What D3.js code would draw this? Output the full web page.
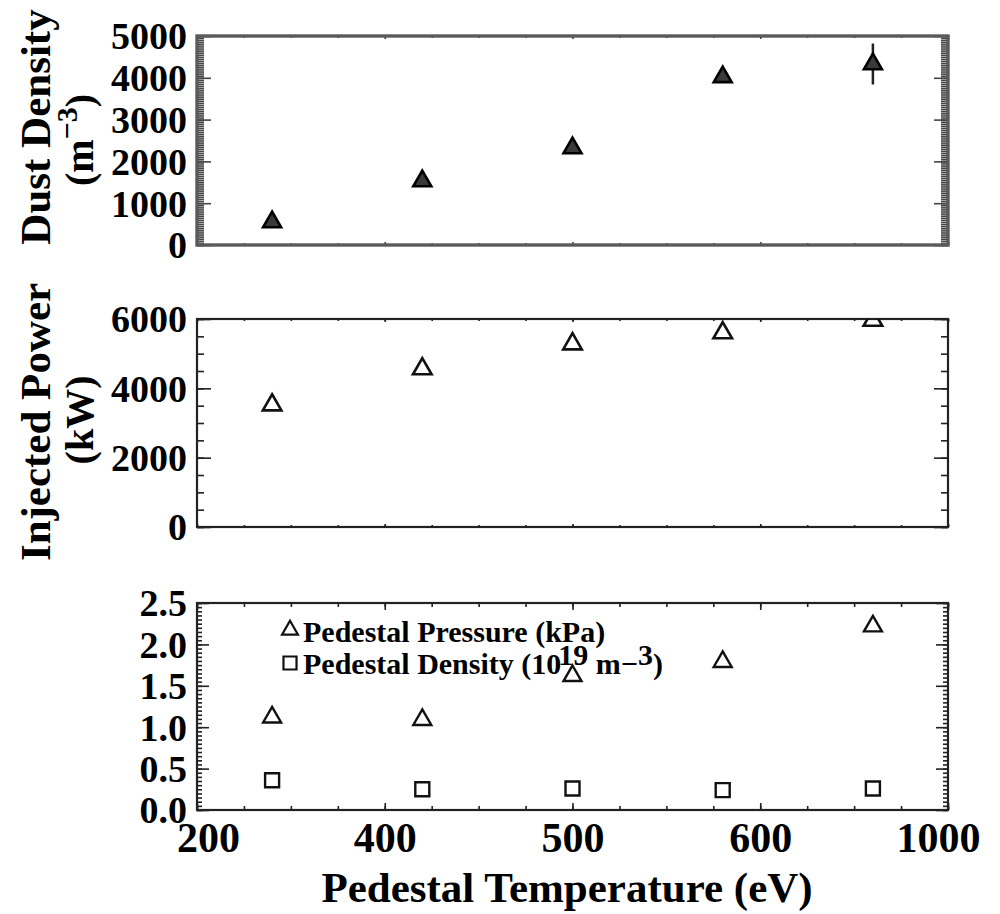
<!DOCTYPE html>
<html>
<head>
<meta charset="utf-8">
<script src="https://cdn.jsdelivr.net/npm/d3@7"></script>
<style>
  body { margin: 0; background: #fff; }
  text { font-family: "Liberation Serif", "Times New Roman", serif; font-weight: bold; fill: #000; }
</style>
</head>
<body>
<svg width="1000" height="914"></svg>
<script>
// data
let xPos = [280, 440, 600, 760, 920];            // positions along the temperature axis
let xTickVals = [200, 400, 600, 800, 1000];
let xTickLabels = ['200', '400', '500', '600', '1000'];

let dustDensity = [550, 1530, 2320, 4020, 4330];
let dustErr = [0, 0, 0, 0, 490];
let injectedPower = [3520, 4560, 5280, 5600, 5960];
let pedPressure = [1.12, 1.09, 1.62, 1.79, 2.22];
let pedDensity = [0.36, 0.25, 0.26, 0.24, 0.26];

let svg = d3.select('svg');
let x0 = 197, x1 = 948;

let x = d3.scaleLinear().domain([200, 1000]).range([x0, x1]);
let xMinor = d3.range(200, 1001, 50);

function triPath(size) {
  return d3.symbol().type(d3.symbolTriangle).size(size)();
}

function panel(opts) {
  let y = d3.scaleLinear().domain(opts.domain).range([opts.bottom, opts.top]);
  let g = svg.append('g');
  let id = 'clip' + opts.name;

  svg.append('clipPath').attr('id', id)
    .append('rect').attr('x', x0).attr('y', opts.top).attr('width', x1 - x0).attr('height', opts.bottom - opts.top);

  // y ticks, left and right, pointing inward
  let majors = d3.range(opts.domain[0], opts.domain[1] + 1e-9, opts.major);
  let minors = d3.range(opts.domain[0], opts.domain[1] + 1e-9, opts.minor);
  g.append('g').attr('transform', 'translate(' + x0 + ',0)')
    .call(d3.axisRight(y).tickValues(minors).tickSize(opts.minorLen).tickFormat(''));
  g.append('g').attr('transform', 'translate(' + x0 + ',0)')
    .call(d3.axisRight(y).tickValues(majors).tickSize(opts.majorLen).tickFormat(''));
  g.append('g').attr('transform', 'translate(' + x1 + ',0)')
    .call(d3.axisLeft(y).tickValues(minors).tickSize(opts.minorLen).tickFormat(''));
  g.append('g').attr('transform', 'translate(' + x1 + ',0)')
    .call(d3.axisLeft(y).tickValues(majors).tickSize(opts.majorLen).tickFormat(''));

  // x ticks, top and bottom
  g.append('g').attr('transform', 'translate(0,' + opts.bottom + ')')
    .call(d3.axisTop(x).tickValues(xMinor).tickSize(opts.xMinorLen).tickFormat(''));
  g.append('g').attr('transform', 'translate(0,' + opts.bottom + ')')
    .call(d3.axisTop(x).tickValues(xTickVals).tickSize(opts.xMajorLen).tickFormat(''));
  g.append('g').attr('transform', 'translate(0,' + opts.top + ')')
    .call(d3.axisBottom(x).tickValues(xMinor).tickSize(opts.xMinorLen).tickFormat(''));
  g.append('g').attr('transform', 'translate(0,' + opts.top + ')')
    .call(d3.axisBottom(x).tickValues(xTickVals).tickSize(opts.xMajorLen).tickFormat(''));

  g.selectAll('.domain').remove();
  g.selectAll('.tick line').attr('stroke', opts.tickColor).attr('stroke-width', 1.6);

  // y labels
  let lab = g.append('g').attr('transform', 'translate(' + (x0 - 10) + ',0)')
    .call(d3.axisLeft(y).tickValues(majors).tickSize(0).tickPadding(0).tickFormat(opts.fmt));
  lab.select('.domain').remove();
  lab.selectAll('text').style('font-size', '38px').attr('dy', '0.34em');

  // frame
  g.append('rect').attr('x', x0).attr('y', opts.top)
    .attr('width', x1 - x0).attr('height', opts.bottom - opts.top)
    .attr('fill', 'none').attr('stroke', opts.frameColor).attr('stroke-width', opts.frameWidth);

  let plot = svg.append('g').attr('clip-path', 'url(#' + id + ')');
  return { y: y, g: g, plot: plot };
}

// ---- top panel: dust density
let p1 = panel({ name: 'a', domain: [0, 5000], top: 36, bottom: 245, major: 1000, minor: 50,
  majorLen: 14, minorLen: 7, xMajorLen: 3, xMinorLen: 2, fmt: d3.format('d'),
  frameColor: '#5a5a5a', frameWidth: 3.4, tickColor: '#444' });

p1.plot.selectAll('.err').data(xPos.map((d, i) => ({ x: d, v: dustDensity[i], e: dustErr[i] })).filter(d => d.e > 0))
  .enter().append('line')
  .attr('x1', d => x(d.x)).attr('x2', d => x(d.x))
  .attr('y1', d => p1.y(d.v + d.e)).attr('y2', d => p1.y(d.v - d.e))
  .attr('stroke', '#222').attr('stroke-width', 2.5);

p1.plot.selectAll('.dust').data(dustDensity).enter().append('path')
  .attr('d', triPath(140))
  .attr('transform', (d, i) => 'translate(' + x(xPos[i]) + ',' + p1.y(d) + ')')
  .attr('fill', '#3a3a3a').attr('stroke', '#000').attr('stroke-width', 2.6);

// ---- middle panel: injected power
let p2 = panel({ name: 'b', domain: [0, 6000], top: 319, bottom: 527, major: 2000, minor: 500,
  majorLen: 14, minorLen: 7, xMajorLen: 3, xMinorLen: 2, fmt: d3.format('d'),
  frameColor: '#222', frameWidth: 2.2, tickColor: '#222' });

p2.plot.selectAll('.pow').data(injectedPower).enter().append('path')
  .attr('d', triPath(150))
  .attr('transform', (d, i) => 'translate(' + x(xPos[i]) + ',' + p2.y(d) + ')')
  .attr('fill', 'none').attr('stroke', '#111').attr('stroke-width', 2.6);

// ---- bottom panel: pedestal pressure and density
let p3 = panel({ name: 'c', domain: [0, 2.5], top: 603, bottom: 810, major: 0.5, minor: 0.05,
  majorLen: 12, minorLen: 5, xMajorLen: 7, xMinorLen: 4, fmt: d3.format('.1f'),
  frameColor: '#222', frameWidth: 2.2, tickColor: '#222' });

p3.plot.selectAll('.pres').data(pedPressure).enter().append('path')
  .attr('d', triPath(140))
  .attr('transform', (d, i) => 'translate(' + x(xPos[i]) + ',' + p3.y(d) + ')')
  .attr('fill', 'none').attr('stroke', '#111').attr('stroke-width', 2.4);

p3.plot.selectAll('.dens').data(pedDensity).enter().append('path')
  .attr('d', d3.symbol().type(d3.symbolSquare).size(196)())
  .attr('transform', (d, i) => 'translate(' + x(xPos[i]) + ',' + p3.y(d) + ')')
  .attr('fill', 'none').attr('stroke', '#111').attr('stroke-width', 2.4);

// x axis labels (end labels nudged inward like the original)
let xl = svg.append('g').attr('transform', 'translate(0,810)')
  .call(d3.axisBottom(x).tickValues(xTickVals).tickSize(0).tickPadding(12).tickFormat((d, i) => xTickLabels[i]));
xl.select('.domain').remove();
xl.selectAll('text').style('font-size', '42px')
  .attr('dx', (d, i) => i === 0 ? 11 : (i === xTickVals.length - 1 ? -10 : 0));

svg.append('text').attr('x', 567).attr('y', 902).attr('text-anchor', 'middle')
  .style('font-size', '43px').text('Pedestal Temperature (eV)');

// y titles
svg.append('text').attr('transform', 'translate(50,127) rotate(-90)').attr('text-anchor', 'middle')
  .style('font-size', '43px').text('Dust Density');
let t1 = svg.append('text').attr('transform', 'translate(93,140) rotate(-90)').attr('text-anchor', 'middle')
  .style('font-size', '40px');
t1.append('tspan').text('(m');
t1.append('tspan').attr('dy', -16).style('font-size', '30px').text('\u22123');
t1.append('tspan').attr('dy', 16).text(')');

svg.append('text').attr('transform', 'translate(50,422) rotate(-90)').attr('text-anchor', 'middle')
  .style('font-size', '43px').text('Injected Power');
svg.append('text').attr('transform', 'translate(93,420) rotate(-90)').attr('text-anchor', 'middle')
  .style('font-size', '40px').text('(kW)');

// legend
let leg = svg.append('g');
leg.append('path').attr('d', triPath(110)).attr('transform', 'translate(290,630)')
  .attr('fill', 'none').attr('stroke', '#111').attr('stroke-width', 2.2);
leg.append('path').attr('d', d3.symbol().type(d3.symbolSquare).size(170)()).attr('transform', 'translate(290,663)')
  .attr('fill', 'none').attr('stroke', '#111').attr('stroke-width', 2.2);
leg.append('text').attr('x', 303).attr('y', 642).style('font-size', '30px').text('Pedestal Pressure (kPa)');
let l2 = leg.append('text').attr('x', 303).attr('y', 674).style('font-size', '30px');
l2.append('tspan').text('Pedestal Density (10');
l2.append('tspan').attr('dy', -9).attr('dx', -3).text('19');
l2.append('tspan').attr('dy', 9).text(' m\u2212');
l2.append('tspan').attr('dy', -9).text('3');
l2.append('tspan').attr('dy', 9).text(')');
</script>
</body>
</html>
